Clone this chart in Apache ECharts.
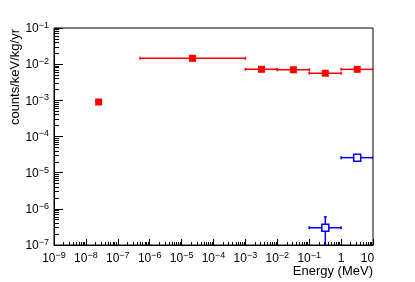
<!DOCTYPE html>
<html><head><meta charset="utf-8">
<script src="https://cdn.jsdelivr.net/npm/echarts@6/dist/echarts.min.js"></script>
<style>html,body{margin:0;padding:0;background:#fff}#c{width:415px;height:282px}</style>
</head><body><div id="c"></div>
<script>
// ---- data ----
const xTicks = [1e-9, 1e-8, 1e-7, 1e-6, 1e-5, 1e-4, 1e-3, 1e-2, 1e-1, 1, 10];
const yTicks = [1e-7, 1e-6, 1e-5, 1e-4, 1e-3, 1e-2, 1e-1];

const redX     = [2.5e-8, 2.2e-5, 3.2e-3, 3.2e-2, 3.2e-1, 3.2];
const redY     = [9.0e-4, 1.45e-2, 7.2e-3, 7.0e-3, 5.6e-3, 7.2e-3];
const redXLow  = [2.5e-8, 5e-7, 1e-3, 1e-2, 1e-1, 1];
const redXHigh = [2.5e-8, 1e-3, 1e-2, 1e-1, 1, 10];

const blueX     = [3.2e-1, 3.2];
const blueY     = [3.0e-7, 2.6e-5];
const blueXLow  = [0.1, 1];
const blueXHigh = [1, 10];
const blueYLow  = [1e-8, 2.6e-5];
const blueYHigh = [6.0e-7, 2.6e-5];

const xTitle = 'Energy (MeV)';
const yTitle = 'counts/keV/kg/yr';

// ---- helpers ----
function minorOf(ticks) {
  const out = [];
  for (let i = 0; i < ticks.length - 1; i++) {
    for (let k = 2; k <= 9; k++) out.push(k * ticks[i]);
  }
  return out;
}
function fmtPow(v) {
  const e = Math.round(Math.log10(v));
  if (e === 0) return '{b|1}';
  if (e === 1) return '{t|10}';
  return '{b|10}{s|\u2212' + Math.abs(e) + '}';
}
const FONT = 'Liberation Sans, Arial, Helvetica, sans-serif';
const rich = {
  b: { fontSize: 12, fontFamily: FONT, color: '#000', lineHeight: 14, verticalAlign: 'bottom' },
  t: { fontSize: 12, fontFamily: FONT, color: '#000', lineHeight: 14, verticalAlign: 'bottom', padding: [0, 11, 0, 0] },
  s: { fontSize: 9, fontFamily: FONT, color: '#000', lineHeight: 14, verticalAlign: 'top' }
};

function errBar(color) {
  return function (params, api) {
    const x = api.value(0), y = api.value(1);
    const xl = api.value(2), xh = api.value(3), yl = api.value(4), yh = api.value(5);
    const children = [];
    const st = { stroke: color, lineWidth: 1.5 };
    const c = 1.5;
    if (xl !== xh) {
      const a = api.coord([xl, y]), b = api.coord([xh, y]);
      children.push({ type: 'line', shape: { x1: a[0], y1: a[1], x2: b[0], y2: b[1] }, style: st });
      children.push({ type: 'line', shape: { x1: a[0], y1: a[1] - c, x2: a[0], y2: a[1] + c }, style: st });
      children.push({ type: 'line', shape: { x1: b[0], y1: b[1] - c, x2: b[0], y2: b[1] + c }, style: st });
    }
    if (yl !== yh) {
      const a = api.coord([x, yl]), b = api.coord([x, yh]);
      children.push({ type: 'line', shape: { x1: a[0], y1: a[1], x2: b[0], y2: b[1] }, style: st });
      children.push({ type: 'line', shape: { x1: b[0] - c, y1: b[1], x2: b[0] + c, y2: b[1] }, style: st });
    }
    return { type: 'group', children: children };
  };
}

const redErr = redX.map((x, i) => [x, redY[i], redXLow[i], redXHigh[i], redY[i], redY[i]]);
const blueErr = blueX.map((x, i) => [x, blueY[i], blueXLow[i], blueXHigh[i], blueYLow[i], blueYHigh[i]]);

const chart = echarts.init(document.getElementById('c'), null, { renderer: 'canvas' });
const axisLine = { show: true, lineStyle: { color: '#000', width: 1 } };
chart.setOption({
  animation: false,
  backgroundColor: '#fff',
  grid: { left: 54, right: 42, top: 28, bottom: 37, show: true, borderColor: '#000', borderWidth: 1, backgroundColor: 'transparent' },
  xAxis: [
    { type: 'log', logBase: 10, min: xTicks[0], max: xTicks[xTicks.length - 1], position: 'bottom',
      axisLine: axisLine, splitLine: { show: false },
      axisTick: { show: true, inside: true, length: 6, customValues: xTicks, lineStyle: { color: '#000' } },
      axisLabel: { show: true, margin: 6, customValues: xTicks, formatter: fmtPow, rich: rich, showMinLabel: true, showMaxLabel: true } },
    { type: 'log', logBase: 10, min: xTicks[0], max: xTicks[xTicks.length - 1], position: 'bottom',
      axisLine: { show: false }, splitLine: { show: false },
      axisTick: { show: true, inside: true, length: 3, customValues: minorOf(xTicks), lineStyle: { color: '#000' } },
      axisLabel: { show: false } }
  ],
  yAxis: [
    { type: 'log', logBase: 10, min: yTicks[0], max: yTicks[yTicks.length - 1], position: 'left',
      axisLine: axisLine, splitLine: { show: false },
      axisTick: { show: true, inside: true, length: 9, customValues: yTicks, lineStyle: { color: '#000' } },
      axisLabel: { show: true, margin: 5, customValues: yTicks, formatter: fmtPow, rich: rich, showMinLabel: true, showMaxLabel: true } },
    { type: 'log', logBase: 10, min: yTicks[0], max: yTicks[yTicks.length - 1], position: 'left',
      axisLine: { show: false }, splitLine: { show: false },
      axisTick: { show: true, inside: true, length: 5, customValues: minorOf(yTicks), lineStyle: { color: '#000' } },
      axisLabel: { show: false } }
  ],
  graphic: [
    { type: 'text', x: 373, y: 271, style: { text: xTitle, font: '13px ' + FONT, fill: '#000', align: 'right', verticalAlign: 'middle' } },
    { type: 'text', x: 15, y: 29, rotation: Math.PI / 2, style: { text: yTitle, font: '13px ' + FONT, fill: '#000', align: 'right', verticalAlign: 'middle' } }
  ],
  series: [
    { type: 'custom', name: 'redErr', clip: true, xAxisIndex: 0, yAxisIndex: 0, renderItem: errBar('#ff0000'), data: redErr, z: 2 },
    { type: 'custom', name: 'blueErr', clip: true, xAxisIndex: 0, yAxisIndex: 0, renderItem: errBar('#0000ff'), data: blueErr, z: 2 },
    { type: 'scatter', name: 'red', xAxisIndex: 0, yAxisIndex: 0, symbol: 'rect', symbolSize: 7,
      itemStyle: { color: '#ff0000', opacity: 1 }, data: redX.map((x, i) => [x, redY[i]]), z: 3 },
    { type: 'scatter', name: 'blue', xAxisIndex: 0, yAxisIndex: 0, symbol: 'rect', symbolSize: 7,
      itemStyle: { color: '#fff', borderColor: '#0000ff', borderWidth: 1.5, opacity: 1 }, data: blueX.map((x, i) => [x, blueY[i]]), z: 3 }
  ]
});
</script></body></html>
